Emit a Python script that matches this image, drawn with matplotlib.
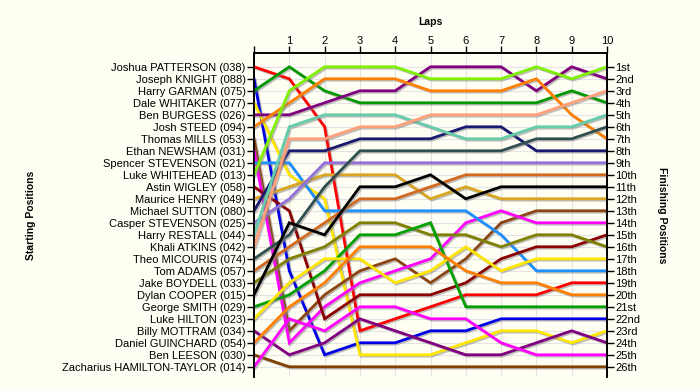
import matplotlib
matplotlib.use("Agg")
import matplotlib.pyplot as plt
import matplotlib.patheffects as pe

# lap chart: position of each driver after every lap (lap 0 = grid)
laps = list(range(0, 11))

names = ["Joshua PATTERSON (038)", "Joseph KNIGHT (088)", "Harry GARMAN (075)",
         "Dale WHITAKER (077)", "Ben BURGESS (026)", "Josh STEED (094)",
         "Thomas MILLS (053)", "Ethan NEWSHAM (031)", "Spencer STEVENSON (021)",
         "Luke WHITEHEAD (013)", "Astin WIGLEY (058)", "Maurice HENRY (049)",
         "Michael SUTTON (080)", "Casper STEVENSON (025)", "Harry RESTALL (044)",
         "Khali ATKINS (042)", "Theo MICOURIS (074)", "Tom ADAMS (057)",
         "Jake BOYDELL (033)", "Dylan COOPER (015)", "George SMITH (029)",
         "Luke HILTON (023)", "Billy MOTTRAM (034)", "Daniel GUINCHARD (054)",
         "Ben LEESON (030)", "Zacharius HAMILTON-TAYLOR (014)"]

positions = [
    [1, 2, 6, 23, 22, 21, 20, 20, 20, 19, 19],
    [2, 18, 25, 24, 24, 23, 23, 22, 22, 22, 22],
    [3, 1, 3, 4, 4, 4, 4, 4, 4, 3, 4],
    [4, 10, 12, 25, 25, 25, 24, 23, 23, 24, 23],
    [5, 5, 4, 3, 3, 1, 1, 1, 3, 1, 2],
    [6, 4, 2, 2, 2, 3, 3, 3, 2, 5, 7],
    [7, 23, 20, 18, 17, 19, 17, 14, 13, 13, 13],
    [8, 24, 21, 19, 18, 17, 14, 13, 14, 14, 14],
    [9, 9, 13, 13, 13, 13, 13, 15, 18, 18, 18],
    [10, 3, 1, 1, 1, 2, 2, 2, 1, 2, 1],
    [11, 13, 22, 20, 20, 20, 19, 17, 16, 16, 15],
    [12, 11, 10, 10, 10, 12, 11, 12, 12, 12, 12],
    [13, 8, 8, 7, 7, 7, 6, 6, 8, 8, 8],
    [14, 12, 9, 9, 9, 9, 9, 9, 9, 9, 9],
    [15, 6, 5, 5, 5, 6, 7, 7, 6, 6, 5],
    [16, 7, 7, 6, 6, 5, 5, 5, 5, 4, 3],
    [17, 15, 11, 8, 8, 8, 8, 8, 7, 7, 6],
    [18, 16, 14, 12, 12, 11, 10, 10, 10, 10, 10],
    [19, 17, 16, 14, 14, 15, 15, 16, 15, 15, 16],
    [20, 14, 15, 11, 11, 10, 12, 11, 11, 11, 11],
    [21, 20, 18, 15, 15, 14, 21, 21, 21, 21, 21],
    [22, 19, 17, 17, 19, 18, 16, 18, 17, 17, 17],
    [23, 25, 24, 22, 23, 24, 25, 25, 24, 23, 24],
    [24, 21, 19, 16, 16, 16, 18, 19, 19, 20, 20],
    [25, 26, 26, 26, 26, 26, 26, 26, 26, 26, 26],
    [26, 22, 23, 21, 21, 22, 22, 24, 25, 25, 25],
]

finish_labels = ["1st", "2nd", "3rd"] + ["%dth" % i for i in range(4, 21)] + \
                ["21st", "22nd", "23rd", "24th", "25th", "26th"]

colors = ["#FF0000", "#0000E6", "#009900", "#FFE600", "#800080", "#FF8000",
          "#8B4513", "#FF00FF", "#1E90FF", "#7FF000", "#8B0000", "#DAA520",
          "#191970", "#9370DB", "#66CDAA", "#FFA07A", "#2F4F4F", "#D2691E",
          "#808000", "#000000", "#00A000", "#FFE600", "#800080", "#FF8000",
          "#804000", "#FF00FF"]

bg = "#FFFEF3"
plt.rcParams['font.family'] = ['Liberation Sans', 'DejaVu Sans']

fig = plt.figure(figsize=(7, 3.9), dpi=100, facecolor=bg)
ax = fig.add_axes([254 / 700, 13 / 390, 353 / 700, 324 / 390])
ax.set_facecolor(bg)

n = len(names)
for i in range(n):
    ax.plot(laps, positions[i], color=colors[i], lw=2.0, solid_joinstyle="miter",
            path_effects=[pe.SimpleLineShadow(offset=(1, -1), shadow_color="gray", alpha=0.5),
                          pe.Normal()], zorder=3)

ax.set_xlim(0, 10)
ax.set_ylim(n + 0.85, -0.15)

# grid
for x in laps:
    ax.axvline(x, color="#E4E4E4", lw=0.8, zorder=1)
for y in range(1, n + 1):
    ax.axhline(y, color="#E4E4E4", lw=0.8, zorder=1)

# top axis = laps
ax.xaxis.tick_top()
ax.set_xticks(laps)
ax.set_xticklabels([""] + [str(l) for l in laps[1:]], fontsize=8)
ax.xaxis.set_label_position("top")
ax.set_xlabel("Laps", fontsize=7.5, fontweight="bold", labelpad=8)
ax.tick_params(axis="x", length=5, width=1, pad=0)

# left axis = starting order
ax.set_yticks(range(1, n + 1))
ax.set_yticklabels(names, fontsize=8)
ax.tick_params(axis="y", length=5, width=1, pad=1)
ax.set_ylabel("Starting Positions", fontsize=7.5, fontweight="bold", labelpad=19)

# right axis = finishing order
ax2 = ax.twinx()
ax2.set_ylim(ax.get_ylim())
ax2.set_yticks(range(1, n + 1))
ax2.set_yticklabels(finish_labels, fontsize=8)
ax2.tick_params(axis="y", length=5, width=1, pad=1)
ax2.set_ylabel("Finishing Positions", fontsize=7.5, fontweight="bold",
               rotation=-90, labelpad=19)

for a in (ax, ax2):
    a.spines["bottom"].set_visible(False)
    for s in ("top", "left", "right"):
        a.spines[s].set_linewidth(1.2)

fig.savefig("out.png", dpi=100, facecolor=bg)
